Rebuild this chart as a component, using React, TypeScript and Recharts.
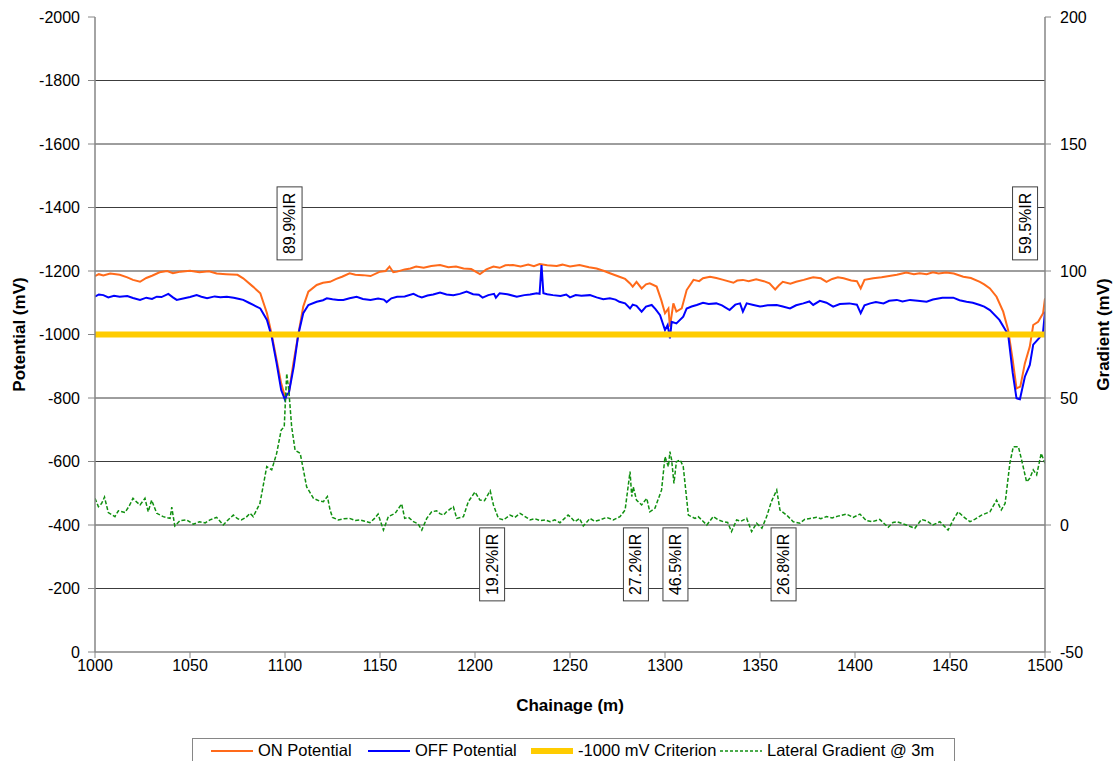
// Potential survey chart: ON / OFF potentials, -1000 mV criterion and lateral gradient

import {
  ComposedChart,
  Line,
  XAxis,
  YAxis,
  CartesianGrid,
  ReferenceDot,
  Legend,
} from "recharts";

const FONT = '"Liberation Sans", Arial, sans-serif';

const chainageTicks = [1000, 1050, 1100, 1150, 1200, 1250, 1300, 1350, 1400, 1450, 1500];
const potentialTicks = [-2000, -1800, -1600, -1400, -1200, -1000, -800, -600, -400, -200, 0];
const gradientTicks = [-50, 0, 50, 100, 150, 200];
const gridPotentials = [-1800, -1600, -1400, -1200, -1000, -800, -600, -400, -200];
const criterionValue = -1000;

// [chainage (m), ON potential (mV)]
const onPotential: [number, number][] = [
  [1000, -1184], [1002, -1190], [1004.4, -1186], [1008, -1192], [1013, -1188], [1017, -1180],
  [1020, -1172], [1023.7, -1166], [1027, -1178], [1030, -1185], [1034, -1196], [1038, -1200],
  [1041, -1193], [1045, -1198], [1050, -1201], [1055, -1196], [1060, -1199], [1064, -1192],
  [1069, -1190], [1075, -1188], [1078, -1177], [1083.3, -1150], [1087, -1130], [1090.5, -1067],
  [1093, -1000], [1095.6, -920], [1098, -846], [1100, -804], [1102, -815], [1104.4, -909],
  [1107, -1000], [1109.6, -1088], [1112.3, -1135], [1116.7, -1156], [1120, -1163], [1123.7, -1166],
  [1127, -1175], [1130, -1182], [1134, -1193], [1137, -1188], [1141, -1187], [1145, -1184],
  [1150, -1198], [1153, -1200], [1155, -1214], [1157, -1196], [1159, -1198], [1163, -1205],
  [1166, -1208], [1169, -1214], [1173, -1210], [1177, -1216], [1181.6, -1219], [1186, -1212],
  [1190, -1214], [1194, -1208], [1198, -1206], [1202.6, -1190], [1206, -1205], [1209.7, -1214],
  [1213, -1210], [1216, -1218], [1220, -1219], [1224, -1214], [1228, -1220], [1231, -1215],
  [1234, -1222], [1238, -1218], [1243, -1216], [1246, -1220], [1250, -1214], [1255, -1219],
  [1260, -1212], [1264, -1208], [1268, -1200], [1271, -1193], [1276, -1182], [1279, -1175],
  [1281.6, -1161], [1283, -1151], [1285, -1166], [1287.7, -1145], [1290, -1158], [1292, -1161],
  [1295.6, -1151], [1298, -1109], [1300, -1067], [1301.8, -1082], [1302.6, -1025], [1304.4, -1098],
  [1306, -1072], [1308.8, -1082], [1311.4, -1140], [1315, -1172], [1318, -1168], [1320, -1177],
  [1323.7, -1182], [1327, -1178], [1330.7, -1172], [1336, -1163], [1338, -1170], [1341, -1172],
  [1344, -1168], [1348, -1174], [1352, -1168], [1355, -1161], [1358, -1142], [1360, -1155],
  [1362, -1166], [1366, -1160], [1369, -1166], [1373, -1172], [1376, -1177], [1378, -1180],
  [1382, -1177], [1385, -1166], [1388, -1175], [1391, -1180], [1394, -1177], [1398, -1170],
  [1401, -1168], [1403, -1145], [1405, -1172], [1409.6, -1177], [1414, -1180], [1418, -1184],
  [1422, -1188], [1427, -1195], [1431, -1190], [1434, -1193], [1437.7, -1190], [1441, -1196],
  [1444, -1192], [1448, -1195], [1452, -1192], [1457, -1182], [1461, -1178], [1465.7, -1166],
  [1468, -1158], [1471, -1145], [1474.5, -1119], [1478, -1072], [1480.6, -1014], [1483, -920],
  [1485, -830], [1487, -836], [1489.4, -909], [1492, -962], [1493.8, -1030], [1496.4, -1040],
  [1499, -1067], [1500, -1114],
];

// [chainage (m), OFF potential (mV)]
const offPotential: [number, number][] = [
  [1000, -1119], [1002, -1126], [1004.4, -1124], [1007, -1117], [1010, -1122], [1013, -1119],
  [1017, -1121], [1020, -1115], [1023.7, -1109], [1027, -1116], [1030, -1112], [1032.5, -1119],
  [1035, -1118], [1038.6, -1128], [1041, -1117], [1043, -1109], [1047, -1114], [1050, -1118],
  [1053.5, -1124], [1056, -1119], [1059, -1114], [1063, -1120], [1066, -1117], [1069.4, -1119],
  [1073, -1116], [1076, -1112], [1078, -1109], [1081, -1100], [1083.3, -1093], [1087, -1082],
  [1090.5, -1046], [1093, -993], [1095.6, -909], [1098, -825], [1100, -794], [1101, -812],
  [1102, -815], [1104.6, -899], [1107, -1000], [1109.6, -1067], [1112.3, -1093], [1116.7, -1103],
  [1120, -1108], [1122, -1114], [1125, -1111], [1128, -1109], [1130.7, -1109], [1134, -1114],
  [1137.7, -1119], [1141, -1112], [1145, -1109], [1149, -1113], [1152, -1110], [1153.5, -1102],
  [1156, -1114], [1159, -1119], [1163, -1120], [1167.6, -1128], [1170, -1121], [1172, -1117],
  [1175, -1123], [1178, -1126], [1181.6, -1132], [1185, -1126], [1188.6, -1124], [1192, -1128],
  [1195.6, -1135], [1199, -1127], [1202, -1125], [1204, -1116], [1207, -1124], [1210, -1128],
  [1211, -1116], [1213, -1130], [1217, -1127], [1222, -1119], [1226, -1124], [1229, -1126],
  [1232.5, -1130], [1234, -1128], [1235, -1219], [1236, -1130], [1238, -1127], [1241, -1124],
  [1245, -1121], [1248, -1126], [1250, -1117], [1253, -1124], [1256, -1122], [1260.5, -1124],
  [1264, -1117], [1267.5, -1111], [1271, -1114], [1274, -1110], [1276, -1103], [1279, -1098],
  [1281.6, -1082], [1283, -1094], [1285, -1090], [1287.7, -1072], [1290, -1088], [1293, -1093],
  [1295, -1080], [1297.4, -1061], [1300, -1014], [1301.4, -1030], [1302.6, -988], [1303.5, -1040],
  [1306, -1035], [1309.6, -1056], [1311.4, -1082], [1314, -1088], [1316.7, -1093], [1320, -1100],
  [1323, -1096], [1327, -1098], [1330, -1092], [1334, -1077], [1337, -1094], [1339.5, -1098],
  [1341, -1072], [1343, -1098], [1346, -1094], [1350, -1088], [1354, -1092], [1358.8, -1093],
  [1362, -1088], [1365.8, -1082], [1369, -1092], [1372.8, -1098], [1376, -1104], [1378, -1093],
  [1381.5, -1106], [1385, -1100], [1388.5, -1088], [1392, -1096], [1397, -1098], [1401, -1094],
  [1403, -1067], [1405, -1092], [1408, -1098], [1411, -1102], [1415, -1098], [1418, -1106],
  [1422, -1109], [1425, -1104], [1429, -1109], [1433, -1106], [1437.7, -1103], [1441, -1110],
  [1446, -1116], [1451.7, -1116], [1455, -1108], [1458.7, -1103], [1462, -1100], [1465.7, -1093],
  [1468, -1088], [1471, -1077], [1476, -1046], [1480.6, -1000], [1483, -879], [1485, -799],
  [1486.8, -796], [1489.4, -867], [1492, -904], [1493.8, -968], [1497, -989], [1499, -1009],
  [1500, -1072],
];

// [chainage (m), lateral gradient @ 3m (mV)]
const lateralGradient: [number, number][] = [
  [1000, 10.5], [1001.8, 7.2], [1003.5, 8.5], [1005, 11], [1007, 4.9], [1010.5, 3.3],
  [1012.3, 5.6], [1015.8, 4.9], [1018, 7.5], [1020, 10.5], [1022, 9], [1023.7, 7.9],
  [1026.3, 10.5], [1028, 5.2], [1029.8, 9.8], [1032.5, 4.6], [1035.9, 3.3], [1039.5, 2.6],
  [1040.4, 7], [1042, -0.4], [1044.7, 1.7], [1048.2, 2], [1051.8, 0.3], [1055, 1.3],
  [1058, 0.8], [1060.5, 2], [1064, 3], [1067.5, 0], [1070, 2], [1072.8, 3.9],
  [1075, 2.5], [1077, 2], [1079.5, 3], [1081.6, 4.6], [1083.3, 3.3], [1086.8, 8.5],
  [1090.4, 23], [1093, 21.7], [1095.6, 28.2], [1098, 37.4], [1099.6, 38.7], [1100.9, 59.7],
  [1102, 53], [1103.5, 38.7], [1105.3, 29.5], [1108, 28.2], [1111.4, 15], [1115, 10.5],
  [1118, 9.5], [1120.2, 9.2], [1122.3, 11.2], [1123.7, 6], [1125, 3], [1128, 2],
  [1131, 2.5], [1134, 2.6], [1137, 1.8], [1139.5, 2], [1142, 1.5], [1144.7, 0.9],
  [1147, 2.5], [1149, 4.3], [1151.8, -2], [1154.4, 3.3], [1158, 4.6], [1161.4, 8.3],
  [1163, 2.6], [1165, 3], [1167.6, 1.3], [1170, 0.5], [1172, -2], [1174.6, 2.6],
  [1177.2, 5.2], [1179.8, 5.6], [1181.5, 4.5], [1183.4, 3.9], [1185, 5.2], [1188.6, 7.2],
  [1190.4, 2.6], [1193.9, 3.3], [1196.5, 9.2], [1200, 13], [1202.6, 9.8], [1205, 9.6],
  [1208, 13.5], [1209.7, 7.9], [1212.3, 2.6], [1215, 2], [1218.4, 3.9], [1221, 3],
  [1223.7, 4.6], [1226, 3.5], [1229, 2], [1231.5, 2.5], [1234.2, 1.7], [1237, 2],
  [1239.5, 1.3], [1242, 2], [1244.7, 0.9], [1247, 2.5], [1249, 3.9], [1250, 3.3],
  [1252.6, 1.3], [1255, 2.6], [1257, -0.4], [1260.5, 2.6], [1263, 1.5], [1265.8, 2],
  [1269.3, 3], [1272.8, 2], [1276.3, 3.3], [1279, 5.9], [1281.6, 21], [1282.5, 11.2],
  [1283.3, 15], [1285, 9.8], [1287.7, 7.9], [1290.4, 10.5], [1292, 5.2], [1294.7, 6.6],
  [1298.2, 13.8], [1300, 26.9], [1301.8, 23], [1302.6, 28.9], [1303.5, 25.6], [1304.7, 16.4],
  [1306, 24.9], [1308, 25.6], [1309.6, 23], [1312.3, 3.9], [1315.8, 2.6], [1317.5, 3.3],
  [1320, 1.5], [1322, 0], [1325.4, 3.3], [1328, 2], [1330.7, 1.3], [1333, 1],
  [1335, -2.6], [1337.7, 2], [1340, 1.5], [1343, 2.6], [1345.6, -2.6], [1348.2, 0.7],
  [1351, -1.3], [1353.5, 3.3], [1356, 9.2], [1358.8, 13.8], [1360.5, 5.9], [1364, 3.9],
  [1367.5, 1.3], [1371, 0.7], [1373.5, 2.2], [1376.3, 2.6], [1379.8, 3], [1382, 2.5],
  [1385, 3.3], [1388, 2.8], [1391, 3.5], [1395.6, 4.3], [1399, 3], [1402.6, 4.3],
  [1406, 1.7], [1409, 1.3], [1413, 2.2], [1417.5, -0.9], [1420, 1], [1422, 1.3],
  [1427, 0], [1431.5, -1.3], [1435, 2.2], [1438, 1.5], [1441, 0], [1444.7, 1.3],
  [1449, -2], [1451.7, 2], [1454.3, 5.2], [1457, 3.3], [1460.5, 1.3], [1463, 2.2],
  [1466.6, 3.9], [1471, 5.2], [1474.5, 9.8], [1477, 5.9], [1479, 8.5], [1481.5, 24.3],
  [1483.3, 30.8], [1486, 30.8], [1487.7, 25.6], [1490.3, 17], [1492, 18.4], [1493.8, 21.7],
  [1495.6, 19.7], [1498, 28.2], [1500, 24.3],
];

// IR drop annotations: [chainage, potential anchor, text]
const irLabels: [number, number, string][] = [
  [1102.4, -1350, "89.9%IR"],
  [1489.5, -1350, "59.5%IR"],
  [1209, -276, "19.2%IR"],
  [1284.7, -276, "27.2%IR"],
  [1305.5, -276, "46.5%IR"],
  [1362.4, -276, "26.8%IR"],
];

// legend entries with their left offset inside the legend box
const legendItems = [
  { name: "ON Potential", color: "#FF6A1A", width: 2, dash: undefined, left: 18 },
  { name: "OFF Potential", color: "#0000FF", width: 2, dash: undefined, left: 175 },
  { name: "-1000 mV Criterion", color: "#FFCC00", width: 6, dash: undefined, left: 338 },
  { name: "Lateral Gradient @ 3m", color: "#109010", width: 1.5, dash: "3 2", left: 527 },
];

const toPoints = (pairs: [number, number][]) => pairs.map(([x, v]) => ({ x, v }));

const onData = toPoints(onPotential);
const offData = toPoints(offPotential);
const gradData = toPoints(lateralGradient);
const criterionData = [
  { x: 1000, v: criterionValue },
  { x: 1500, v: criterionValue },
];

const SideTitle = ({ viewBox, title, shift }: any) => {
  const cx = viewBox.x + shift;
  const cy = viewBox.y + viewBox.height / 2;
  return (
    <text
      x={cx}
      y={cy}
      transform={`rotate(-90 ${cx} ${cy})`}
      textAnchor="middle"
      dominantBaseline="central"
      fontFamily={FONT}
      fontSize={17}
      fontWeight="bold"
      fill="#000"
    >
      {title}
    </text>
  );
};

const BottomTitle = ({ viewBox, title }: any) => (
  <text
    x={viewBox.x + viewBox.width / 2}
    y={viewBox.y + 53}
    textAnchor="middle"
    dominantBaseline="central"
    fontFamily={FONT}
    fontSize={17}
    fontWeight="bold"
    fill="#000"
  >
    {title}
  </text>
);

const IRBox = ({ cx, cy, text }: any) => {
  const w = 25;
  const h = 73;
  return (
    <g>
      <rect x={cx - w / 2} y={cy - h / 2} width={w} height={h} fill="#fff" stroke="#404040" strokeWidth={1} />
      <text
        x={cx}
        y={cy}
        transform={`rotate(-90 ${cx} ${cy})`}
        textAnchor="middle"
        dominantBaseline="central"
        fontFamily={FONT}
        fontSize={16}
        fill="#000"
      >
        {text}
      </text>
    </g>
  );
};

const LegendBox = () => (
  <div
    style={{
      position: "relative",
      border: "1px solid #868686",
      background: "#fff",
      height: 25,
      width: 763,
      boxSizing: "border-box",
      fontFamily: FONT,
      fontSize: 16.5,
      color: "#000",
    }}
  >
    {legendItems.map((item) => (
      <div
        key={item.name}
        style={{
          position: "absolute",
          left: item.left,
          top: 0,
          height: 23,
          display: "flex",
          alignItems: "center",
          whiteSpace: "nowrap",
        }}
      >
        <svg width={42} height={10} style={{ marginRight: 5 }}>
          <line
            x1={0}
            y1={5}
            x2={42}
            y2={5}
            stroke={item.color}
            strokeWidth={item.width}
            strokeDasharray={item.dash}
          />
        </svg>
        <span>{item.name}</span>
      </div>
    ))}
  </div>
);

const tickStyle = { fill: "#000", fontSize: 16, fontFamily: FONT };
const axisStroke = "#868686";

export default function App() {
  return (
    <div style={{ position: "absolute", left: 0, top: 0, background: "#fff" }}>
      <ComposedChart width={1115} height={761} margin={{ top: 17, right: 0, bottom: 49, left: 0 }}>
        <CartesianGrid
          yAxisId="left"
          vertical={false}
          horizontalValues={gridPotentials}
          stroke="#3c3c3c"
          strokeWidth={1}
        />
        <XAxis
          dataKey="x"
          type="number"
          domain={[1000, 1500]}
          ticks={chainageTicks}
          allowDataOverflow
          height={60}
          tick={tickStyle}
          tickSize={6}
          tickMargin={2}
          axisLine={{ stroke: axisStroke, strokeWidth: 1.5 }}
          tickLine={{ stroke: axisStroke }}
          label={<BottomTitle title="Chainage (m)" />}
        />
        <YAxis
          yAxisId="left"
          type="number"
          domain={[-2000, 0]}
          ticks={potentialTicks}
          reversed
          width={95}
          tick={tickStyle}
          tickSize={7}
          tickMargin={8}
          axisLine={{ stroke: axisStroke, strokeWidth: 1.5 }}
          tickLine={{ stroke: axisStroke }}
          label={<SideTitle title="Potential (mV)" shift={19} />}
        />
        <YAxis
          yAxisId="right"
          orientation="right"
          type="number"
          domain={[-50, 200]}
          ticks={gradientTicks}
          width={70}
          tick={{ ...tickStyle, textAnchor: "start" }}
          tickSize={6}
          tickMargin={9}
          axisLine={{ stroke: axisStroke, strokeWidth: 1.5 }}
          tickLine={{ stroke: axisStroke }}
          label={<SideTitle title="Gradient (mV)" shift={58} />}
        />

        <Line
          yAxisId="left"
          data={onData}
          dataKey="v"
          name="ON Potential"
          type="linear"
          stroke="#FF6A1A"
          strokeWidth={2}
          dot={false}
          isAnimationActive={false}
        />
        <Line
          yAxisId="left"
          data={offData}
          dataKey="v"
          name="OFF Potential"
          type="linear"
          stroke="#0000FF"
          strokeWidth={2}
          dot={false}
          isAnimationActive={false}
        />
        <Line
          yAxisId="left"
          data={criterionData}
          dataKey="v"
          name="-1000 mV Criterion"
          type="linear"
          stroke="#FFCC00"
          strokeWidth={6}
          dot={false}
          isAnimationActive={false}
        />
        <Line
          yAxisId="right"
          data={gradData}
          dataKey="v"
          name="Lateral Gradient @ 3m"
          type="linear"
          stroke="#109010"
          strokeWidth={1.5}
          strokeDasharray="4 2"
          dot={false}
          isAnimationActive={false}
        />

        {irLabels.map(([c, p, text]) => (
          <ReferenceDot
            key={text}
            yAxisId="left"
            x={c}
            y={p}
            ifOverflow="visible"
            shape={(props: any) => <IRBox {...props} text={text} />}
          />
        ))}

        <Legend
          layout="horizontal"
          verticalAlign="middle"
          align="center"
          wrapperStyle={{ left: 192, top: 738, width: 763, height: 25 }}
          content={() => <LegendBox />}
        />
      </ComposedChart>
    </div>
  );
}
